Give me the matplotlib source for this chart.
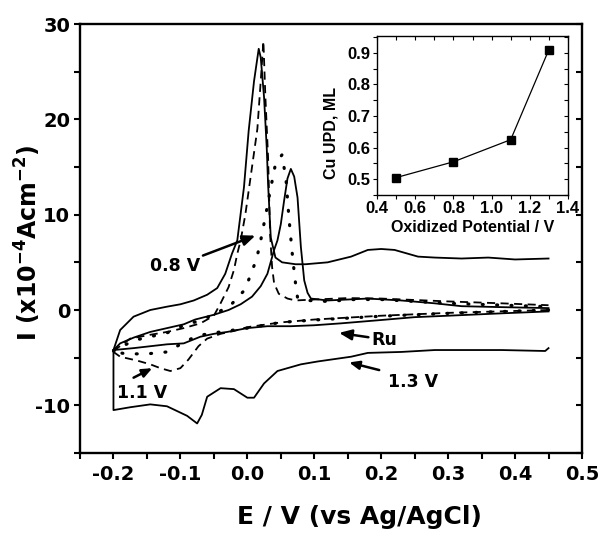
import numpy as np
import matplotlib
matplotlib.use("Agg")
import matplotlib.pyplot as plt
from matplotlib.ticker import MultipleLocator

# ---------------- data ----------------
# Ru (solid, peak ~0.065 V): forward (anodic) and reverse (cathodic) sweeps
ru_E_fwd = [-0.2, -0.19, -0.17, -0.145, -0.12, -0.095, -0.078, -0.05, -0.028, -0.01, 0.007, 0.02,
            0.03, 0.04, 0.045, 0.05, 0.055, 0.06, 0.065, 0.07, 0.075, 0.08, 0.085, 0.09, 0.095,
            0.12, 0.15, 0.18, 0.23, 0.28, 0.32, 0.38, 0.45]
ru_I_fwd = [-4.2, -3.5, -2.9, -2.3, -1.9, -1.5, -1.0, -0.5, 0.0, 0.6, 1.4, 2.5,
            3.8, 6.3, 7.3, 9.0, 11.5, 13.8, 14.8, 14.0, 11.8, 6.6, 3.1, 1.8, 1.2,
            1.0, 1.1, 1.2, 1.0, 0.7, 0.4, 0.3, 0.2]
ru_E_rev = [0.45, 0.38, 0.3, 0.25, 0.2, 0.14, 0.1, 0.065, 0.03, 0.0, -0.03, -0.05, -0.07, -0.095,
            -0.12, -0.145, -0.17, -0.2]
ru_I_rev = [-0.15, -0.35, -0.6, -0.75, -1.05, -1.4, -1.6, -1.7, -1.7, -1.9, -2.3, -2.5, -2.8, -3.5,
            -3.6, -3.8, -4.0, -4.2]

# 1.3 V (solid, peak ~0.017 V)
v13_E_fwd = [-0.2, -0.19, -0.17, -0.145, -0.12, -0.1, -0.08, -0.06, -0.045, -0.033, -0.023, -0.015,
             -0.005, 0.002, 0.01, 0.017, 0.02, 0.025, 0.029, 0.031, 0.035, 0.042, 0.052, 0.072,
             0.087, 0.12, 0.155, 0.18, 0.2, 0.22, 0.255, 0.28, 0.32, 0.36, 0.4, 0.45]
v13_I_fwd = [-4.2, -2.1, -0.7, 0.0, 0.35, 0.6, 1.0, 1.6, 2.3, 3.8, 5.9, 7.3,
             12.9, 18.8, 24.0, 27.4, 26.5, 22.3, 17.0, 13.2, 7.6, 5.5, 5.0, 4.8,
             4.8, 5.0, 5.6, 6.3, 6.4, 6.3, 5.6, 5.5, 5.4, 5.5, 5.3, 5.4]
v13_E_rev = [0.45, 0.445, 0.38, 0.28, 0.23, 0.18, 0.155, 0.105, 0.08, 0.045, 0.025, 0.01, 0.0,
             -0.02, -0.04, -0.06, -0.068, -0.075, -0.09, -0.12, -0.145, -0.175, -0.2, -0.2]
v13_I_rev = [-4.0, -4.3, -4.2, -4.2, -4.4, -4.5, -4.9, -5.4, -5.7, -6.4, -7.7, -9.2, -9.2,
             -8.3, -8.2, -9.1, -11.0, -11.9, -11.1, -10.1, -9.9, -10.2, -10.5, -4.2]

# 0.8 V (dashed, peak ~0.024 V)
v08_E_fwd = [-0.2, -0.175, -0.145, -0.12, -0.095, -0.07, -0.05, -0.04, -0.028, -0.02, -0.015,
             -0.01, -0.003, 0.005, 0.015, 0.02, 0.024, 0.027, 0.031, 0.034, 0.037, 0.04, 0.047,
             0.06, 0.072, 0.1, 0.15, 0.2, 0.3, 0.38, 0.45]
v08_I_fwd = [-4.3, -3.0, -2.6, -2.3, -1.9, -1.4, -0.6, 0.7, 2.4, 4.2, 5.9,
             7.3, 10.0, 14.0, 19.0, 24.0, 28.2, 22.3, 16.0, 8.0, 4.5, 2.8, 1.7,
             1.2, 1.0, 1.1, 1.25, 1.2, 0.9, 0.7, 0.5]
v08_E_rev = [0.45, 0.3, 0.2, 0.1, 0.05, 0.0, -0.02, -0.04, -0.06, -0.073, -0.088, -0.1, -0.115,
             -0.13, -0.145, -0.165, -0.19, -0.2]
v08_I_rev = [0.0, -0.3, -0.6, -1.0, -1.3, -1.8, -2.2, -2.5, -3.0, -3.8, -5.2, -6.1, -6.4,
             -6.1, -5.7, -5.3, -4.9, -4.4]

# 1.1 V (dotted, peak ~0.05 V)
v11_E_fwd = [-0.2, -0.17, -0.12, -0.095, -0.07, -0.048, -0.025, -0.004, 0.005, 0.014, 0.02,
             0.027, 0.035, 0.042, 0.052, 0.058, 0.062, 0.065, 0.067, 0.07, 0.072, 0.075, 0.09,
             0.12, 0.16, 0.2, 0.3, 0.45]
v11_I_fwd = [-4.3, -3.2, -2.4, -1.6, -1.1, -0.4, 0.5, 2.1, 3.7, 5.4, 7.3,
             9.8, 12.8, 15.3, 16.3, 13.5, 9.8, 7.5, 6.0, 4.0, 2.8, 1.3, 1.0,
             0.9, 1.1, 1.1, 0.7, 0.35]
v11_E_rev = [0.45, 0.3, 0.2, 0.1, 0.05, 0.0, -0.05, -0.075, -0.1, -0.12, -0.15, -0.18, -0.2]
v11_I_rev = [0.0, -0.35, -0.65, -1.05, -1.3, -1.9, -2.4, -2.7, -3.6, -4.4, -4.6, -4.6, -4.4]

# inset
inset_x = [0.5, 0.8, 1.1, 1.3]
inset_y = [0.505, 0.555, 0.625, 0.91]

xtick_vals = [-0.2, -0.1, 0.0, 0.1, 0.2, 0.3, 0.4, 0.5]
xtick_labels = ["-0.2", "-0.1", "0.0", "0.1", "0.2", "0.3", "0.4", "0.5"]
ytick_vals = [-10, 0, 10, 20, 30]
ytick_labels = ["-10", "0", "10", "20", "30"]
inset_xticks = [0.4, 0.6, 0.8, 1.0, 1.2, 1.4]
inset_xlabels = ["0.4", "0.6", "0.8", "1.0", "1.2", "1.4"]
inset_yticks = [0.5, 0.6, 0.7, 0.8, 0.9]
inset_ylabels = ["0.5", "0.6", "0.7", "0.8", "0.9"]

# ---------------- figure ----------------
fig = plt.figure(figsize=(6.0, 5.35), dpi=100)
ax = fig.add_axes([80/600, 1-453/535, 502/600, 429/535])

lw = 1.3
solid = dict(color="black", lw=lw, ls="-")
dashed = dict(color="black", lw=lw, ls=(0, (4.5, 3)))
dotted = dict(color="black", lw=2.3, ls=(0, (0.3, 4.2)), dash_capstyle="round")
for E, I, st in [(v13_E_fwd, v13_I_fwd, solid), (v13_E_rev, v13_I_rev, solid),
                 (ru_E_fwd, ru_I_fwd, solid), (ru_E_rev, ru_I_rev, solid),
                 (v08_E_fwd, v08_I_fwd, dashed), (v08_E_rev, v08_I_rev, dashed),
                 (v11_E_fwd, v11_I_fwd, dotted), (v11_E_rev, v11_I_rev, dotted)]:
    ax.plot(E, I, **st)

ax.set_xlim(-0.25, 0.5)
ax.set_ylim(-15, 30)
ax.set_xticks(xtick_vals)
ax.set_xticklabels(xtick_labels)
ax.set_yticks(ytick_vals)
ax.set_yticklabels(ytick_labels)
ax.xaxis.set_minor_locator(MultipleLocator(0.05))
ax.yaxis.set_minor_locator(MultipleLocator(5))
for s in ax.spines.values():
    s.set_linewidth(1.7)
ax.tick_params(axis="both", which="both", direction="out", width=1.5, length=4,
               labelsize=14)
ax.tick_params(axis="x", pad=5)
ax.tick_params(axis="y", pad=3)
ax.tick_params(axis="y", which="both", right=True)
for t in ax.get_xticklabels() + ax.get_yticklabels():
    t.set_fontweight("bold")
for tk in ax.yaxis.get_major_ticks() + ax.yaxis.get_minor_ticks():
    tk.tick2line.set_marker(matplotlib.markers.TICKLEFT)

fig.text(28/600, 1-243/535, r"I (x10$^{\mathbf{-4}}$Acm$^{\mathbf{-2}}$)", rotation=90,
         ha="center", va="center", fontsize=17, fontweight="bold")
fig.text(359/600, 1-517/535, "E / V (vs Ag/AgCl)", ha="center", va="center",
         fontsize=18, fontweight="bold")

akw = dict(arrowstyle="-|>,head_length=0.6,head_width=0.25", color="black", lw=1.8,
           shrinkA=0, shrinkB=0)
ax.annotate("0.8 V", xy=(0.012, 7.8), xytext=(-0.108, 4.6), fontsize=12.5,
            fontweight="bold", ha="center", va="center", arrowprops=akw)
ax.text(-0.157, -8.7, "1.1 V", fontsize=12.5, fontweight="bold", ha="center", va="center")
ax.annotate("", xy=(-0.142, -6.1), xytext=(-0.17, -7.1), arrowprops=akw)
ax.annotate("Ru", xy=(0.137, -2.4), xytext=(0.185, -3.1), fontsize=12.5,
            fontweight="bold", ha="left", va="center", arrowprops=akw)
ax.annotate("", xy=(0.152, -5.5), xytext=(0.197, -6.3), arrowprops=akw)
ax.text(0.248, -7.6, "1.3 V", fontsize=12.5, fontweight="bold", ha="center", va="center")

# ---------------- inset ----------------
ins = fig.add_axes([377/600, 1-195/535, 191/600, 159/535])
ins.plot(inset_x, inset_y, color="black", lw=0.9, marker="s", markersize=6,
         markerfacecolor="black")
ins.set_xlim(0.4, 1.4)
ins.set_ylim(0.45, 0.953)
ins.set_xticks(inset_xticks)
ins.set_xticklabels(inset_xlabels)
ins.set_yticks(inset_yticks)
ins.set_yticklabels(inset_ylabels)
ins.xaxis.set_minor_locator(MultipleLocator(0.1))
ins.yaxis.set_minor_locator(MultipleLocator(0.05))
for s in ins.spines.values():
    s.set_linewidth(1.0)
ins.tick_params(which="both", direction="out", length=3, width=0.8, labelsize=12, pad=1.5)
ins.tick_params(which="both", top=True, right=True)
for tk in ins.yaxis.get_major_ticks() + ins.yaxis.get_minor_ticks():
    tk.tick2line.set_marker(matplotlib.markers.TICKLEFT)
for tk in ins.xaxis.get_major_ticks() + ins.xaxis.get_minor_ticks():
    tk.tick2line.set_marker(matplotlib.markers.TICKDOWN)
for t in ins.get_xticklabels() + ins.get_yticklabels():
    t.set_fontweight("bold")
    t.set_family("Liberation Sans")
ins.set_xlabel("Oxidized Potential / V", fontsize=11.5, fontweight="bold",
               family="Liberation Sans", labelpad=3)
ins.set_ylabel("Cu UPD, ML", fontsize=11.5, fontweight="bold", family="Liberation Sans")
ins.yaxis.set_label_coords(-38/191, 0.5 - 18/159)

fig.savefig("out.png", dpi=100)
